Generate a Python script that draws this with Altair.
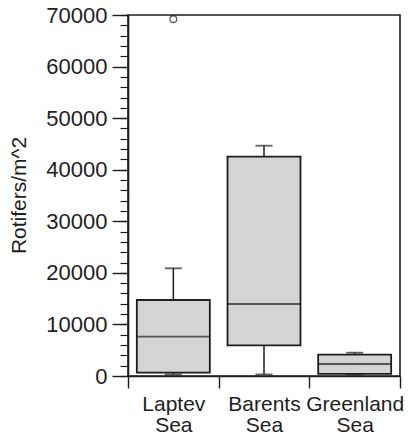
import altair as alt
import pandas as pd

seas = ["Laptev Sea", "Barents Sea", "Greenland Sea"]
whisker_low = [300, 300, 300]
q1 = [640, 5950, 400]
median = [7620, 13960, 2330]
q3 = [14740, 42530, 4130]
whisker_high = [20880, 44660, 4520]
outlier_sea = ["Laptev Sea"]
outlier_value = [69200]
y_major = list(range(0, 70001, 10000))
y_minor = list(range(0, 70001, 2000))

df = pd.DataFrame({"sea": seas, "lo": whisker_low, "q1": q1, "med": median,
                   "q3": q3, "hi": whisker_high})
out = pd.DataFrame({"sea": outlier_sea, "v": outlier_value})

INK = "#1e1e1e"
FONT = "Liberation Sans"

xscale = alt.Scale(domain=seas, paddingInner=0, paddingOuter=0)
yscale = alt.Scale(domain=[0, 70000], nice=False, zero=True)

xaxis = alt.Axis(title=None, tickBand="extent", labelAngle=0,
                 labelExpr="split(datum.label, ' ')", labelFont=FONT,
                 labelFontSize=21, labelColor=INK, labelLineHeight=21,
                 labelPadding=5, tickSize=12, tickColor=INK, domainColor=INK,
                 tickWidth=1.4, domainWidth=1.6, grid=False)
yaxis = alt.Axis(title="Rotifers/m^2", values=y_major, format="d",
                 labelFont=FONT, labelFontSize=22, labelColor=INK,
                 labelPadding=5, tickSize=16, tickColor=INK, tickWidth=1.4,
                 domainColor=INK, domainWidth=1.6, grid=False,
                 titleFont=FONT, titleFontSize=21, titleFontWeight="normal",
                 titleColor=INK, titleAngle=270, titleX=-109, titleY=180,
                 titleAlign="center", titleBaseline="middle")
yminor = alt.Axis(title=None, values=y_minor, labels=False, tickSize=8,
                  tickColor=INK, tickWidth=1.2, domain=False, grid=False,
                  orient="left")

X = alt.X("sea:N", sort=seas, scale=xscale, axis=xaxis)

base = alt.Chart(df)

whisk = base.mark_rule(color=INK, strokeWidth=1.5).encode(
    x=X, y=alt.Y("lo:Q", scale=yscale, axis=yaxis), y2="hi:Q")

cap_hi = base.mark_tick(color=INK, size=17, thickness=1.8).encode(
    x=X, y=alt.Y("hi:Q", scale=yscale))
cap_lo = base.mark_tick(color=INK, size=17, thickness=1.8).encode(
    x=X, y=alt.Y("lo:Q", scale=yscale))

box = base.mark_bar(size=73, fill="#d4d4d4", stroke=INK, strokeWidth=1.8).encode(
    x=X, y=alt.Y("q1:Q", scale=yscale), y2="q3:Q")

med = base.mark_tick(color=INK, size=73, thickness=1.8).encode(
    x=X, y=alt.Y("med:Q", scale=yscale))

outl = alt.Chart(out).mark_point(shape="circle", size=45, filled=False,
                                 color=INK, strokeWidth=1.3).encode(
    x=alt.X("sea:N", sort=seas, scale=xscale),
    y=alt.Y("v:Q", scale=yscale))

main = alt.layer(whisk, box, med, cap_hi, cap_lo, outl)

minor = base.mark_tick(opacity=0).encode(
    x=X, y=alt.Y("med:Q", scale=yscale, axis=yminor))

chart = alt.layer(main, minor).resolve_axis(y="independent").properties(
    width=272, height=361,
    padding={"left": 128, "top": 15, "right": 8, "bottom": 61},
    autosize=alt.AutoSizeParams(type="none"),
    background="white",
).configure_view(stroke=INK, strokeWidth=1.6)

chart.save("out.html", embed_options={"renderer": "svg", "actions": False})
